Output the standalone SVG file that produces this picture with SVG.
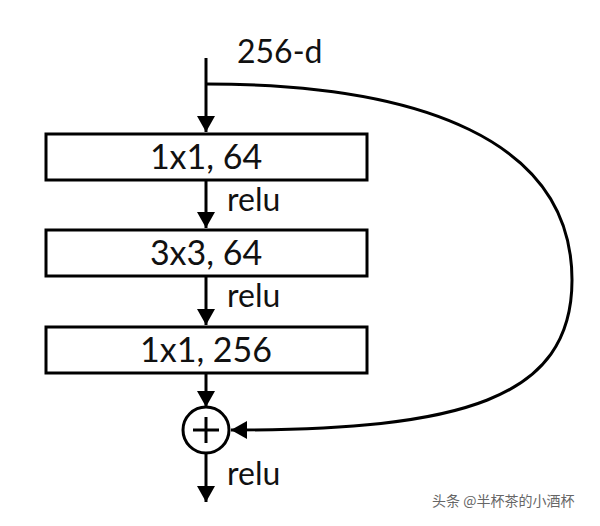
<svg xmlns="http://www.w3.org/2000/svg" width="600" height="526" viewBox="0 0 600 526">
<style>
.box{fill:#fff;stroke:#000;stroke-width:3}
.ln{fill:none;stroke:#000;stroke-width:3}
.t{font-family:Lato,"Open Sans","Liberation Sans",sans-serif;font-size:34px;fill:#111;text-anchor:middle}
.r{font-family:Lato,"Open Sans","Liberation Sans",sans-serif;font-size:32px;fill:#111}
.wm{font-family:"Noto Sans CJK SC",sans-serif;font-size:14px;fill:#666}
</style>
<defs>
<marker id="ah" markerWidth="16" markerHeight="18" refX="16" refY="9" orient="auto" markerUnits="userSpaceOnUse" viewBox="0 0 16 18">
<path d="M0,0 L16,9 L0,18 Z" fill="#000"/>
</marker>
</defs>
<g id="connectors">
<line class="ln" x1="206" y1="58" x2="206" y2="132" marker-end="url(#ah)"/>
<line class="ln" x1="206" y1="181" x2="206" y2="228" marker-end="url(#ah)"/>
<line class="ln" x1="206" y1="277" x2="206" y2="325" marker-end="url(#ah)"/>
<line class="ln" x1="206" y1="374" x2="206" y2="407" marker-end="url(#ah)"/>
<line class="ln" x1="206" y1="453" x2="206" y2="502" marker-end="url(#ah)"/>
<path class="ln" d="M206,84 C420,84 572,140 572,280 C572,400 460,430 231,430" marker-end="url(#ah)"/>
</g>
<g id="input"><text class="r" x="237" y="63">256-d</text></g>
<g id="box1"><rect class="box" x="46" y="134" width="321" height="46"/><text class="t" x="206" y="169">1x1, 64</text></g>
<g id="relu1"><text class="r" x="227" y="211">relu</text></g>
<g id="box2"><rect class="box" x="46" y="230" width="321" height="46"/><text class="t" x="206" y="265">3x3, 64</text></g>
<g id="relu2"><text class="r" x="227" y="307">relu</text></g>
<g id="box3"><rect class="box" x="46" y="327" width="321" height="46"/><text class="t" x="206" y="362">1x1, 256</text></g>
<g id="add"><circle cx="206" cy="430" r="23" fill="#fff" stroke="#000" stroke-width="3"/><line class="ln" x1="193" y1="430" x2="219" y2="430"/><line class="ln" x1="206" y1="417" x2="206" y2="443"/></g>
<g id="relu3"><text class="r" x="227" y="485">relu</text></g>
<g id="watermark"><text class="wm" x="432" y="506">头条 @半杯茶的小酒杯</text></g>
</svg>
